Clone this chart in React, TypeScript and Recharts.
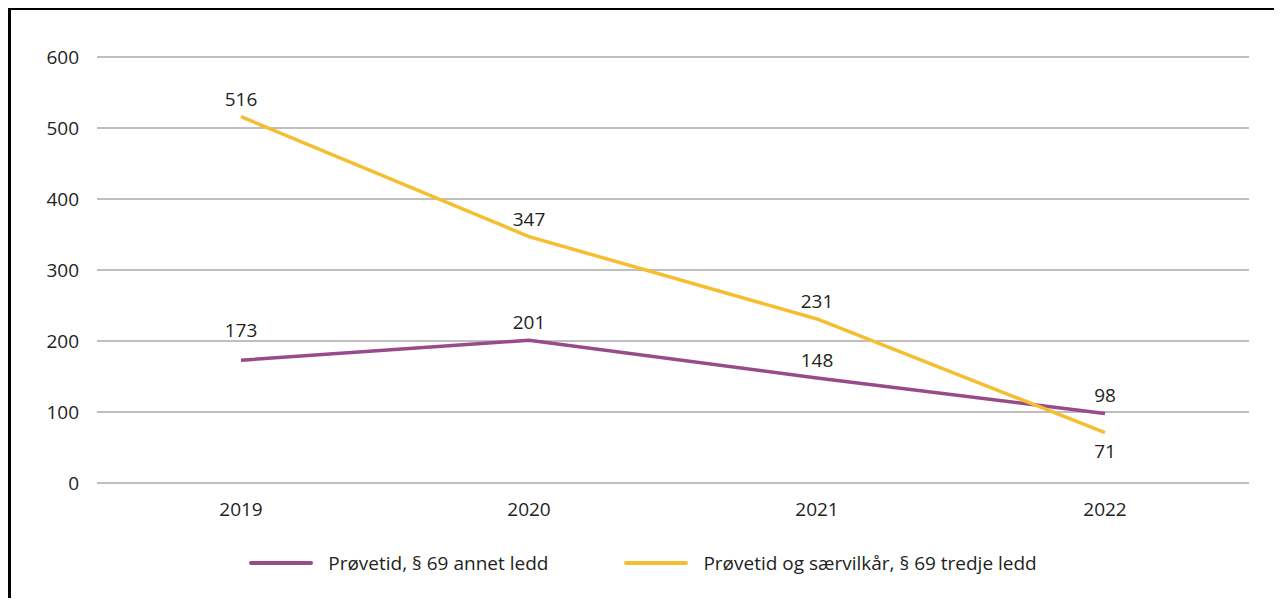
import { LineChart, Line, XAxis, YAxis, CartesianGrid, Legend, LabelList } from "recharts";

const years = ["2019", "2020", "2021", "2022"];
const annetLedd = [173, 201, 148, 98];
const tredjeLedd = [516, 347, 231, 71];
const yTicks = [0, 100, 200, 300, 400, 500, 600];

const SERIES = [
  { key: "annet", name: "Prøvetid, § 69 annet ledd", color: "#974B88" },
  { key: "tredje", name: "Prøvetid og særvilkår, § 69 tredje ledd", color: "#F6BE2F" },
];

const data = years.map((year, i) => ({
  year,
  annet: annetLedd[i],
  tredje: tredjeLedd[i],
}));

const FONT = "'Open Sans', 'DejaVu Sans', sans-serif";
const TEXT = "#231F20";
const PX_PER_UNIT = 426 / 600;

// label sits above the point, below it if the other series is higher at the last year,
// and gets pushed up when it would sit on a gridline
function makeLabel(key: "annet" | "tredje") {
  return (props: any) => {
    const { x, y, value, index } = props;
    const other = key === "annet" ? tredjeLedd[index] : annetLedd[index];
    const below = value < other && index === years.length - 1;
    let ly = below ? y + 18 : y - 18;
    if (!below) {
      const labelValue = value + 18 / PX_PER_UNIT;
      const nearest = Math.round(labelValue / 100) * 100;
      if (Math.abs(labelValue - nearest) * PX_PER_UNIT < 8) ly -= 12;
    }
    return (
      <text
        x={x}
        y={ly}
        textAnchor="middle"
        dominantBaseline="central"
        fontSize={19}
        fontFamily={FONT}
        fill={TEXT}
      >
        {value}
      </text>
    );
  };
}

function LegendContent() {
  return (
    <div style={{ display: "flex", justifyContent: "center", alignItems: "center", height: 24, fontFamily: FONT, fontSize: 19, color: TEXT }}>
      {SERIES.map((s, i) => (
        <div key={s.key} style={{ display: "flex", alignItems: "center", marginLeft: i === 0 ? 0 : 76 }}>
          <div style={{ width: 64, height: 4, borderRadius: 2, background: s.color, marginRight: 15 }} />
          <span>{s.name}</span>
        </div>
      ))}
    </div>
  );
}

export default function App() {
  return (
    <div style={{ width: 1274, height: 590, overflow: "hidden" }}>
      <div style={{ width: 1300, height: 640, border: "2px solid #000", borderLeftWidth: 3, boxSizing: "border-box" }}>
        <LineChart width={1264} height={590} data={data} margin={{ top: 47, right: 26, bottom: 25, left: 26 }}>
          <CartesianGrid horizontal vertical={false} stroke="#808080" strokeWidth={1.2} />
          <XAxis
            dataKey="year"
            axisLine={false}
            tickLine={false}
            height={68}
            tickMargin={14}
            padding={{ left: 144, right: 144 }}
            tick={{ fontSize: 19, fontFamily: FONT, fill: TEXT }}
          />
          <YAxis
            domain={[0, 600]}
            ticks={yTicks}
            axisLine={false}
            tickLine={false}
            width={60}
            tickMargin={12}
            tick={{ fontSize: 19, fontFamily: FONT, fill: TEXT }}
          />
          <Legend verticalAlign="bottom" content={<LegendContent />} />
          {SERIES.map((s) => (
            <Line
              key={s.key}
              dataKey={s.key}
              name={s.name}
              stroke={s.color}
              strokeWidth={3.5}
              dot={false}
              activeDot={false}
              isAnimationActive={false}
            >
              <LabelList dataKey={s.key} content={makeLabel(s.key as "annet" | "tredje")} />
            </Line>
          ))}
        </LineChart>
      </div>
    </div>
  );
}
